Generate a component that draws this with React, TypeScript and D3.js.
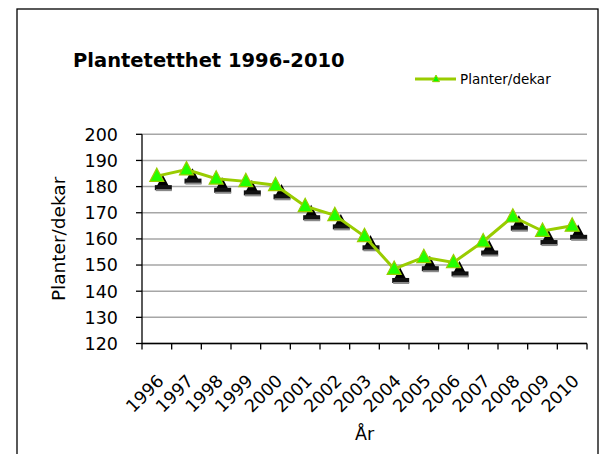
import React from "react";
import * as d3 from "d3";

const years = ["1996","1997","1998","1999","2000","2001","2002","2003","2004","2005","2006","2007","2008","2009","2010"];
const values = [184, 186.5, 183, 182, 180.5, 172.5, 169, 161, 148.5, 153, 151, 159, 168.5, 163, 165];
const yTicks = [120, 130, 140, 150, 160, 170, 180, 190, 200];

const W = 606, H = 454;
const left = 142, right = 587, top = 134.3, bottom = 343.5;
const FONT = "DejaVu Sans, Verdana, sans-serif";

function tri(cx: number, cy: number, s: number) {
  const h = s * 0.95;
  return `M${cx},${cy - h * 0.6} L${cx + s / 2},${cy + h * 0.4} L${cx - s / 2},${cy + h * 0.4} Z`;
}

export default function App() {
  const x = d3.scaleBand<string>().domain(years).range([left, right]).padding(0);
  const y = d3.scaleLinear().domain([120, 200]).range([bottom, top]);
  const cx = (d: string) => (x(d) as number) + x.bandwidth() / 2;
  const line = d3.line<number>().x((_, i) => cx(years[i])).y((v) => y(v));
  const boundaries = [...years.map((d) => x(d) as number), right];

  return (
    <svg width={W} height={H} style={{ position: "absolute", left: 0, top: 0, background: "#fff" }}>
      <rect x={17} y={9} width={581} height={460} fill="#fff" stroke="#000" strokeWidth={1.3} />
      <text x={73} y={67} fontFamily={FONT} fontWeight="bold" fontSize={19.5} fill="#000">Plantetetthet 1996-2010</text>
      {/* legend */}
      <line x1={415} x2={456} y1={79} y2={79} stroke="#99cc00" strokeWidth={3} />
      <path d={tri(436, 79, 7)} fill="#00ff00" stroke="#99cc00" strokeWidth={1} />
      <text x={460} y={84} fontFamily={FONT} fontSize={13.5} fill="#000">Planter/dekar</text>
      {/* gridlines */}
      {yTicks.map((t) => (
        <line key={"g" + t} x1={left} x2={right} y1={y(t)} y2={y(t)} stroke="#a6a6a6" strokeWidth={1.5} />
      ))}
      {/* y axis */}
      <line x1={left} x2={left} y1={top} y2={bottom} stroke="#000" strokeWidth={1.3} />
      {yTicks.map((t) => (
        <g key={"t" + t}>
          <line x1={left - 6} x2={left} y1={y(t)} y2={y(t)} stroke="#000" strokeWidth={1.3} />
          <text x={118} y={y(t)} dy="0.36em" textAnchor="end" fontFamily={FONT} fontSize={17.5} fill="#000">{t}</text>
        </g>
      ))}
      {/* x axis */}
      <line x1={left} x2={right} y1={bottom} y2={bottom} stroke="#000" strokeWidth={1.3} />
      {boundaries.map((b, i) => (
        <line key={"xt" + i} x1={b} x2={b} y1={bottom} y2={bottom + 6} stroke="#000" strokeWidth={1.3} />
      ))}
      {years.map((d) => (
        <text key={"xl" + d} transform={`translate(${cx(d) + 8},${382}) rotate(-45)`} textAnchor="end"
          fontFamily={FONT} fontSize={17.5} fill="#000">{d}</text>
      ))}
      <text x={(left + right) / 2} y={440} textAnchor="middle" fontFamily={FONT} fontSize={17.5} fill="#000">År</text>
      <text transform={`translate(65,${(top + bottom) / 2}) rotate(-90)`} textAnchor="middle"
        fontFamily={FONT} fontSize={18.5} fill="#000">Planter/dekar</text>
      {/* marker shadows */}
      {values.map((v, i) => (
        <g key={"s" + i}>
          <path d={tri(cx(years[i]) + 6, y(v) + 6, 13)} fill="#000" />
          <rect x={cx(years[i]) - 2} y={y(v) + 9} width={17} height={5} fill="#111" />
          <rect x={cx(years[i]) - 1} y={y(v) + 13} width={16} height={2} fill="#888" />
        </g>
      ))}
      {/* line */}
      <path d={line(values) as string} fill="none" stroke="#99cc00" strokeWidth={3} />
      {values.map((v, i) => (
        <path key={"m" + i} d={tri(cx(years[i]), y(v), 14)} fill="#22ff00" stroke="#99cc00" strokeWidth={1.2} />
      ))}
    </svg>
  );
}
